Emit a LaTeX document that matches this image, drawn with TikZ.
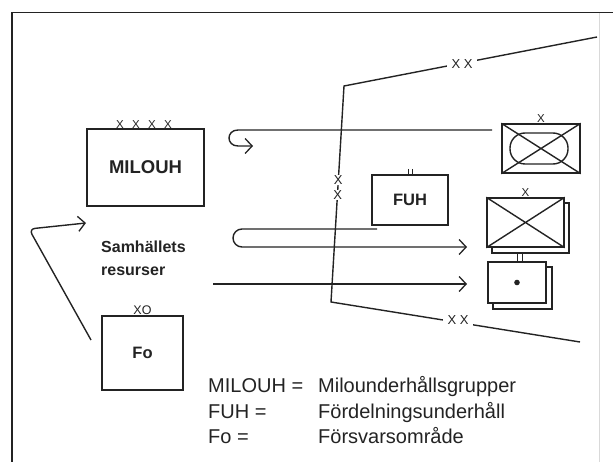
\documentclass[tikz,border=0pt]{standalone}
\usepackage{fontspec}
\setmainfont{Liberation Sans}
\usetikzlibrary{arrows.meta}
\definecolor{inkColor}{RGB}{35,35,35}
\tikzstyle{diagram} = [x = 1pt, y = -1pt]
\tikzstyle{plainLine} = [draw=inkColor, line width=1.4pt]
\tikzstyle{unitBox} = [draw=inkColor, line width=1.4pt, fill=white, inner sep=0pt]
\tikzstyle{flowLine} = [draw=inkColor, line width=1.4pt, -{Straight Barb[length=7pt,width=15pt,line width=1.3pt]}]
\tikzstyle{boxText} = [text=inkColor, font=\fontsize{18.5}{18.5}\selectfont\bfseries]
\tikzstyle{smallBoxText} = [text=inkColor, font=\fontsize{16.5}{16.5}\selectfont\bfseries]
\tikzstyle{markText} = [text=inkColor, font=\fontsize{11.5}{11.5}\selectfont, inner sep=0.5pt, anchor=south]
\tikzstyle{lineMark} = [text=inkColor, font=\fontsize{13}{13}\selectfont, fill=white, inner xsep=5pt, inner ysep=1pt]
\tikzstyle{resourceText} = [text=inkColor, font=\fontsize{16}{16}\selectfont\bfseries, anchor=base west, inner sep=0pt]
\tikzstyle{legendText} = [text=inkColor, font=\fontsize{20}{20}\selectfont, anchor=base west, inner sep=0pt]

\begin{document}
\begin{tikzpicture}[diagram]
  \useasboundingbox (0,0) rectangle (613,462);
  % frame
  \draw[plainLine] (12,462) -- (12,12.5) -- (613,12.5);
  \draw[gray!30, line width=0.8pt] (599,13) -- (599,462);

  % boundary with its marks
  \coordinate (lineEndTop) at (597,37);
  \coordinate (lineTop) at (344,86);
  \coordinate (lineBottom) at (331,302);
  \coordinate (lineEndBottom) at (580,342);
  \draw[plainLine] (lineEndTop) -- (lineTop) -- (lineBottom) -- (lineEndBottom);
  \node[lineMark] (topMark) at (462,64) {X X};
  \node[lineMark] (bottomMark) at (458,320.5) {X X};
  \node[lineMark, inner xsep=1pt] (sideMarkA) at (338.3,180) {X};
  \node[lineMark, inner xsep=1pt] (sideMarkB) at (337.6,195) {X};

  % flows
  \coordinate (armourOut) at (492,130);
  \coordinate (milouhIn) at (253,146);
  \draw[flowLine] (armourOut) -- (238,130) .. controls (226,130) and (226,146) .. (238,146) -- (milouhIn);
  \coordinate (fuhOut) at (377,229);
  \coordinate (supplyIn) at (467,247);
  \draw[flowLine] (fuhOut) -- (242,229) arc[start angle=90, end angle=270, radius=9pt] -- (supplyIn);
  \coordinate (resourceOut) at (213,284);
  \coordinate (depotIn) at (467,284);
  \draw[flowLine] (resourceOut) -- (depotIn);
  \coordinate (foOut) at (91,340);
  \coordinate (leftBend) at (29,229);
  \coordinate (milouhLeftIn) at (86,223);
  \draw[flowLine, rounded corners=6pt] (foOut) -- (leftBend) -- (milouhLeftIn);

  % units
  \node[unitBox, boxText, minimum width=117pt, minimum height=77pt] (milouhBox) at (145.5,167.5) {MILOUH};
  \foreach \markX in {120,136,152,168}
    \node[markText] (milouhMark\markX) at (\markX,129.5) {X};
  \node[unitBox, smallBoxText, minimum width=76pt, minimum height=50pt] (fuhBox) at (410,200) {FUH};
  \draw[plainLine, line width=0.9pt] (408,169) -- (408,175) (412,169) -- (412,175);
  \node[unitBox, smallBoxText, minimum width=81pt, minimum height=74pt] (foBox) at (142.5,353) {Fo};
  \node[markText, font=\fontsize{12.5}{12.5}\selectfont] (foMark) at (foBox.north) {XO};

  \node[unitBox, minimum width=78pt, minimum height=49pt] (armourUnit) at (541,148.5) {};
  \draw[plainLine] (armourUnit.north west) -- (armourUnit.south east) (armourUnit.north east) -- (armourUnit.south west);
  \draw[plainLine, rounded corners=15pt] (510,133) rectangle (568,164);
  \node[markText] (armourMark) at (armourUnit.north) {X};

  \filldraw[unitBox] (492,203) rectangle (569,253);
  \node[unitBox, minimum width=77pt, minimum height=49pt] (supplyUnit) at (525.5,222.5) {};
  \draw[plainLine] (supplyUnit.north west) -- (supplyUnit.south east) (supplyUnit.north east) -- (supplyUnit.south west);
  \node[markText] (supplyMark) at (supplyUnit.north) {X};

  \filldraw[unitBox] (493,267) rectangle (552,309);
  \node[unitBox, minimum width=58pt, minimum height=41pt] (depotUnit) at (517,282.5) {};
  \fill[inkColor] (depotUnit.center) circle (2.8pt);
  \draw[plainLine, line width=1pt] (517,253) -- (depotUnit.north -| 517,0) (522,253) -- (depotUnit.north -| 522,0);

  % texts
  \node[resourceText] (resourceA) at (101,253) {Samhällets};
  \node[resourceText] (resourceB) at (101,276) {resurser};
  \node[legendText] (legMilouh) at (208,392) {MILOUH =};
  \node[legendText] (legMilouhText) at (318,392) {Milounderhållsgrupper};
  \node[legendText] (legFuh) at (208,418) {FUH =};
  \node[legendText] (legFuhText) at (318,418) {Fördelningsunderhåll};
  \node[legendText] (legFo) at (208,443) {Fo =};
  \node[legendText] (legFoText) at (318,443) {Försvarsområde};
\end{tikzpicture}
\end{document}
